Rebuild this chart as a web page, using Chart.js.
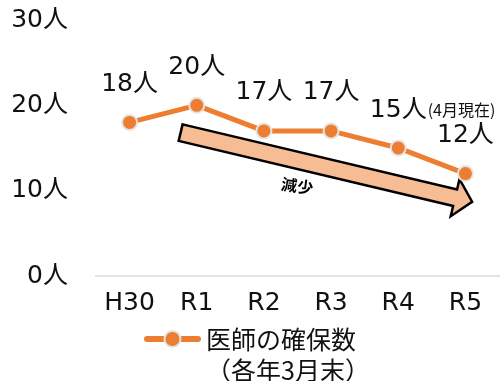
<!DOCTYPE html>
<html lang="ja">
<head>
<meta charset="utf-8">
<title>医師の確保数</title>
<script src="https://cdn.jsdelivr.net/npm/chart.js@4/dist/chart.umd.min.js"></script>
<style>
  html, body { margin: 0; padding: 0; background: #ffffff; }
  #wrap { position: relative; width: 500px; height: 381px; }
</style>
</head>
<body>
<div id="wrap"><canvas id="chart"></canvas></div>
<script>
// Doctors secured per year (end of March each year)
const categories = ['H30', 'R1', 'R2', 'R3', 'R4', 'R5'];
const doctors = [18, 20, 17, 17, 15, 12];
const pointNotes = ['', '', '', '', '(4月現在)', ''];
const yTickValues = [0, 10, 20, 30];
const unit = '人';
const seriesLabel = '医師の確保数';
const legendNote = '（各年3月末）';
const trendLabel = '減少';

const ORANGE = '#ED7D31';
const RING = '#e4e4e4';
const TEXT = '#111111';
const FONT = "'DejaVu Sans', 'Noto Sans CJK JP', sans-serif";
const CJK_FONT = "'Noto Sans CJK JP', 'DejaVu Sans', sans-serif";

// Value labels above each point, with an optional small note to the right
const valueLabels = {
  id: 'valueLabels',
  afterDatasetsDraw(chart) {
    const ctx = chart.ctx;
    const meta = chart.getDatasetMeta(0);
    ctx.save();
    ctx.fillStyle = TEXT;
    ctx.textBaseline = 'middle';
    meta.data.forEach((pt, i) => {
      const txt = doctors[i] + unit;
      const y = pt.y - 38;
      ctx.font = '25px ' + FONT;
      ctx.textAlign = 'center';
      ctx.fillText(txt, pt.x, y);
      if (pointNotes[i]) {
        const w = ctx.measureText(txt).width;
        ctx.font = '16px ' + CJK_FONT;
        ctx.textAlign = 'left';
        ctx.fillText(pointNotes[i], pt.x + w / 2 + 1, y);
      }
    });
    ctx.restore();
  }
};

// Downward trend arrow under the line, anchored on the chart's scales
const trendArrow = {
  id: 'trendArrow',
  beforeDatasetsDraw(chart) {
    const { ctx, scales: { x, y } } = chart;
    const x0 = x.getPixelForValue(0.76), y0 = y.getPixelForValue(16.8);
    const x1 = x.getPixelForValue(5.1),  y1 = y.getPixelForValue(8.7);
    const ang = Math.atan2(y1 - y0, x1 - x0);
    const len = Math.hypot(x1 - x0, y1 - y0);
    const shaft = 8.5, head = 19, headLen = 17.5;

    ctx.save();
    ctx.translate(x0, y0);
    ctx.rotate(ang);
    ctx.beginPath();
    ctx.moveTo(0, -shaft);
    ctx.lineTo(len - headLen, -shaft);
    ctx.lineTo(len - headLen, -head);
    ctx.lineTo(len, 0);
    ctx.lineTo(len - headLen, head);
    ctx.lineTo(len - headLen, shaft);
    ctx.lineTo(0, shaft);
    ctx.closePath();
    ctx.fillStyle = '#F6BC94';
    ctx.fill();
    ctx.lineWidth = 2.5;
    ctx.lineJoin = 'miter';
    ctx.strokeStyle = '#000000';
    ctx.stroke();

    // caption below the shaft
    ctx.translate(len * 0.42, 25);
    ctx.rotate(-ang + 8 * Math.PI / 180);
    ctx.font = 'bold 16px ' + CJK_FONT;
    ctx.fillStyle = '#000000';
    ctx.textAlign = 'center';
    ctx.textBaseline = 'middle';
    ctx.fillText(trendLabel, 0, 0);
    ctx.restore();
  }
};

// Two-line legend centred under the axis
const legendBlock = {
  id: 'legendBlock',
  afterDraw(chart) {
    const ctx = chart.ctx;
    const ds = chart.data.datasets[0];
    const top = chart.scales.x.bottom;
    const markW = 57, gap = 5;
    ctx.save();
    ctx.font = '25px ' + CJK_FONT;
    const textW = ctx.measureText(ds.label).width;
    const startX = (chart.width - (markW + gap + textW)) / 2;
    const ly = top + 18;

    ctx.strokeStyle = ORANGE;
    ctx.lineWidth = 6;
    ctx.lineCap = 'round';
    ctx.beginPath();
    ctx.moveTo(startX + 3, ly);
    ctx.lineTo(startX + markW - 3, ly);
    ctx.stroke();

    ctx.beginPath();
    ctx.arc(startX + markW / 2, ly, 8, 0, Math.PI * 2);
    ctx.fillStyle = ORANGE;
    ctx.fill();
    ctx.lineWidth = 2;
    ctx.strokeStyle = RING;
    ctx.stroke();

    ctx.fillStyle = TEXT;
    ctx.textAlign = 'left';
    ctx.textBaseline = 'middle';
    const tx = startX + markW + gap;
    ctx.fillText(ds.label, tx, ly);
    ctx.fillText(legendNote, tx, ly + 31);
    ctx.restore();
  }
};

new Chart(document.getElementById('chart'), {
  type: 'line',
  data: {
    labels: categories,
    datasets: [{
      label: seriesLabel,
      data: doctors,
      borderColor: ORANGE,
      borderWidth: 5,
      pointRadius: 7.5,
      pointHoverRadius: 7.5,
      pointBackgroundColor: ORANGE,
      pointBorderColor: RING,
      pointBorderWidth: 2,
      tension: 0,
      clip: false
    }]
  },
  options: {
    responsive: true,
    maintainAspectRatio: false,
    animation: false,
    events: [],
    layout: { autoPadding: false, padding: { top: 20, right: 1, bottom: 60, left: 0 } },
    plugins: {
      legend: { display: false },
      tooltip: { enabled: false }
    },
    scales: {
      x: {
        offset: true,
        grid: { display: false, drawTicks: false, offset: true },
        border: { display: true, color: '#dfe3ea', width: 2 },
        ticks: { color: TEXT, font: { family: FONT, size: 25 }, padding: 12, maxRotation: 0 },
        afterFit(scale) { scale.height = 45; }
      },
      y: {
        min: yTickValues[0],
        max: yTickValues[yTickValues.length - 1],
        grid: { display: false, drawTicks: false },
        border: { display: false },
        afterBuildTicks(scale) { scale.ticks = yTickValues.map(v => ({ value: v })); },
        ticks: {
          color: TEXT,
          font: { family: FONT, size: 25 },
          padding: 28,
          callback: v => v + unit
        },
        afterFit(scale) {
          scale.width = 96;
          scale.paddingTop = 15;
          scale.paddingBottom = 15;
        }
      }
    }
  },
  plugins: [trendArrow, valueLabels, legendBlock]
});
</script>
</body>
</html>
